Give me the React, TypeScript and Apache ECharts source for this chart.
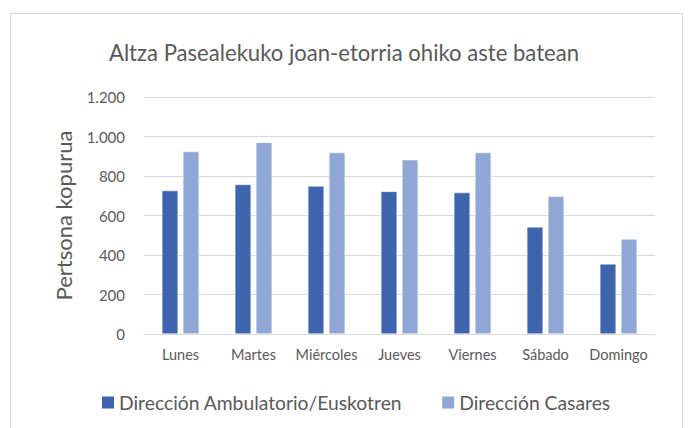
import React, { useEffect, useRef } from "react";
import * as echarts from "echarts";

const categories = ["Lunes", "Martes", "Miércoles", "Jueves", "Viernes", "Sábado", "Domingo"];
const seriesNames = ["Dirección Ambulatorio/Euskotren", "Dirección Casares"];
const ambulatorio = [726, 757, 749, 722, 716, 542, 355];
const casares = [924, 970, 919, 882, 919, 697, 481];
const yTicks = [0, 200, 400, 600, 800, 1000, 1200];

const FONT = "Lato, 'Open Sans', sans-serif";
const GRAY = "#595959";

function fmt(v: number) {
  return String(v).replace(/\B(?=(\d{3})+(?!\d))/g, ".");
}

export default function App() {
  const ref = useRef<HTMLDivElement>(null);
  useEffect(() => {
    document.body.style.margin = "0";
    const chart = echarts.init(ref.current!, null, { renderer: "svg" });
    chart.setOption({
      animation: false,
      backgroundColor: "#ffffff",
      textStyle: { fontFamily: FONT },
      title: {
        text: "Altza Pasealekuko joan-etorria ohiko aste batean",
        left: "center",
        top: 36,
        textStyle: { fontFamily: FONT, fontSize: 22.1, fontWeight: "normal", color: GRAY },
      },
      graphic: [
        {
          type: "rect",
          shape: { x: 10.5, y: 13.5, width: 672, height: 430 },
          style: { fill: "none", stroke: "#d9d9d9", lineWidth: 1 },
          silent: true,
        },
      ],
      legend: {
        data: seriesNames,
        left: 95,
        top: 388,
        itemWidth: 14,
        itemHeight: 14,
        itemGap: 38,
        icon: "rect",
        textStyle: { fontFamily: FONT, fontSize: 19.3, color: GRAY, padding: [0, 0, 0, -1] },
      },
      grid: { left: 144, right: 33, top: 97, bottom: 94 },
      xAxis: {
        type: "category",
        data: categories,
        axisLine: { lineStyle: { color: "#d9d9d9" } },
        axisTick: { show: false },
        axisLabel: { fontFamily: FONT, fontSize: 14.5, color: GRAY, margin: 13, interval: 0 },
      },
      yAxis: {
        type: "value",
        min: yTicks[0],
        max: yTicks[yTicks.length - 1],
        interval: 200,
        name: "Pertsona kopurua",
        nameLocation: "middle",
        nameGap: 70,
        nameTextStyle: { fontFamily: FONT, fontSize: 22, color: GRAY },
        axisLine: { show: false },
        axisTick: { show: false },
        axisLabel: { fontFamily: FONT, fontSize: 15, color: GRAY, margin: 19, formatter: (v: number) => fmt(v) },
        splitLine: { lineStyle: { color: "#d9d9d9", width: 1 } },
      },
      series: [
        {
          name: seriesNames[0],
          type: "bar",
          data: ambulatorio,
          barGap: "30%",
          barCategoryGap: "49%",
          itemStyle: { color: "#3d64ad", borderColor: "#ffffff", borderWidth: 0.5 },
        },
        {
          name: seriesNames[1],
          type: "bar",
          data: casares,
          itemStyle: { color: "#8fa6d6", borderColor: "#ffffff", borderWidth: 0.5 },
        },
      ],
    });
    return () => chart.dispose();
  }, []);
  return <div ref={ref} style={{ width: 688, height: 428 }} />;
}
